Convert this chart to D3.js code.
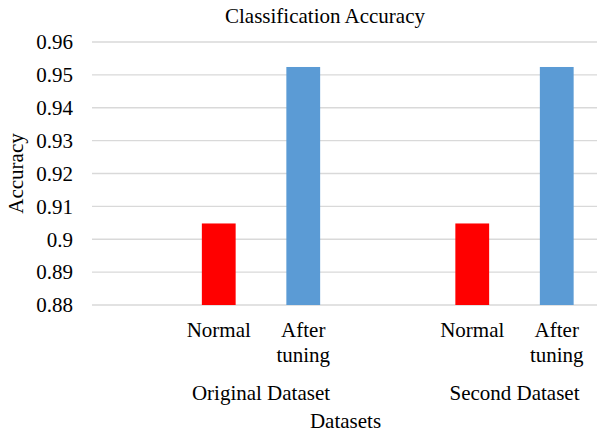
<!DOCTYPE html>
<html>
<head>
<meta charset="utf-8">
<script src="https://cdn.jsdelivr.net/npm/d3@7"></script>
<style>
  html, body { margin: 0; padding: 0; background: #fff; }
</style>
</head>
<body>
<svg id="chart" width="597" height="436" font-family="'Liberation Serif', 'Times New Roman', serif"></svg>
<script>
// chart data
const groups = ["Original Dataset", "Second Dataset"];
const methods = ["Normal", "After tuning"];
const normalAcc = [0.9048, 0.9048];
const tunedAcc = [0.9524, 0.9524];
const yTicks = [0.88, 0.89, 0.9, 0.91, 0.92, 0.93, 0.94, 0.95, 0.96];
const colors = { "Normal": "#ff0000", "After tuning": "#5b9bd5" };

const svg = d3.select("#chart");
const margin = { left: 92, right: 599, top: 42, bottom: 305 };
const fontFamily = "'Liberation Serif', 'Times New Roman', serif";
const fontSize = 21;

// helper so every label gets the same serif font
function label(sel) {
    return sel
        .attr("font-family", fontFamily)
        .attr("font-size", fontSize)
        .attr("fill", "#000");
}

const y = d3.scaleLinear().domain([0.88, 0.96]).range([margin.bottom, margin.top]);

// each group has an empty leading slot, then one slot per method
const xGroup = d3.scaleBand().domain(groups).range([margin.left, margin.right]);
const xInner = d3.scaleBand()
    .domain(["", ...methods])
    .range([0, xGroup.bandwidth()])
    .paddingInner(0.6)
    .paddingOuter(0.3);

// gridlines
svg.append("g")
    .selectAll("line")
    .data(yTicks)
    .join("line")
    .attr("x1", margin.left)
    .attr("x2", margin.right)
    .attr("y1", d => y(d))
    .attr("y2", d => y(d))
    .attr("stroke", "#d9d9d9")
    .attr("stroke-width", 1.3);

// y tick labels
svg.append("g")
    .selectAll("text")
    .data(yTicks)
    .join("text")
    .call(label)
    .attr("x", 73)
    .attr("y", d => y(d))
    .attr("dy", "0.35em")
    .attr("text-anchor", "end")
    .text(d => String(+d.toFixed(2)));

// bars
const rows = [];
groups.forEach((g, i) => {
    rows.push({ group: g, method: "Normal", value: normalAcc[i] });
    rows.push({ group: g, method: "After tuning", value: tunedAcc[i] });
});

svg.append("g")
    .selectAll("rect")
    .data(rows)
    .join("rect")
    .attr("x", d => xGroup(d.group) + xInner(d.method))
    .attr("width", xInner.bandwidth())
    .attr("y", d => y(d.value))
    .attr("height", d => y(0.88) - y(d.value))
    .attr("fill", d => colors[d.method]);

// method labels (wrapped on spaces)
svg.append("g")
    .selectAll("text")
    .data(rows)
    .join("text")
    .call(label)
    .attr("text-anchor", "middle")
    .each(function(d) {
        const cx = xGroup(d.group) + xInner(d.method) + xInner.bandwidth() / 2;
        d.method.split(" ").forEach((word, k) => {
            d3.select(this).append("tspan")
                .attr("x", cx)
                .attr("y", 337 + k * 24.5)
                .text(word);
        });
    });

// group labels, centred under their two bars
const step = xInner.step();
svg.append("g")
    .selectAll("text")
    .data(groups)
    .join("text")
    .call(label)
    .attr("x", g => xGroup(g) + step * 2)
    .attr("y", 400)
    .attr("text-anchor", "middle")
    .text(g => g);

// title and axis titles
svg.append("text")
    .call(label)
    .attr("x", 325)
    .attr("y", 22.5)
    .attr("text-anchor", "middle")
    .text("Classification Accuracy");

svg.append("text")
    .call(label)
    .attr("x", (margin.left + margin.right) / 2)
    .attr("y", 428)
    .attr("text-anchor", "middle")
    .text("Datasets");

svg.append("text")
    .call(label)
    .attr("transform", `translate(23,${(margin.top + margin.bottom) / 2}) rotate(-90)`)
    .attr("text-anchor", "middle")
    .text("Accuracy");
</script>
</body>
</html>
